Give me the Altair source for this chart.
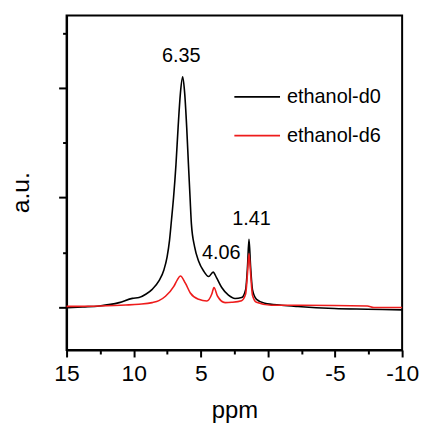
import altair as alt
import pandas as pd

# ---- data ----
d0_ppm = [15, 13.8, 12.56, 11.08, 10.1, 9.6, 9.1, 8.62, 8.12, 7.75, 7.51, 7.33, 7.18, 7.03, 6.85,
          6.69, 6.52, 6.35, 6.2, 6.05, 5.92, 5.80, 5.70, 5.46, 5.16, 4.79, 4.42, 4.08, 3.83, 3.44,
          2.94, 2.45, 1.96, 1.66, 1.52, 1.41, 1.29, 1.15, 0.85, 0.23, -1.0, -2.23, -4.95, -7.4, -10]
d0_val = [-0.005, 0.003, 0.012, 0.042, 0.081, 0.088, 0.118, 0.163, 0.24, 0.34, 0.46, 0.61, 0.80, 1.0, 1.30,
          1.64, 1.95, 2.10, 1.95, 1.64, 1.30, 1.0, 0.76, 0.55, 0.42, 0.33, 0.28, 0.32, 0.27, 0.18,
          0.11, 0.08, 0.088, 0.16, 0.37, 0.62, 0.37, 0.16, 0.072, 0.036, 0.018, 0.006, -0.012, -0.018, -0.024]

d6_ppm = [15, 12.56, 10.6, 9.6, 8.62, 8.12, 7.63, 7.01, 6.75, 6.52, 6.15, 5.78, 5.16, 4.55,
          4.18, 4.02, 3.75, 3.19, 2.7, 1.96, 1.66, 1.52, 1.41, 1.29, 1.15, 0.85, -0.26,
          -2.47, -7.4, -7.9, -10]
d6_val = [0.008, 0.012, 0.02, 0.027, 0.042, 0.06, 0.10, 0.19, 0.25, 0.285, 0.22, 0.13, 0.072, 0.057,
          0.12, 0.18, 0.10, 0.042, 0.045, 0.06, 0.12, 0.31, 0.49, 0.31, 0.11, 0.045, 0.018,
          0.018, 0.012, -0.003, -0.003]

series_names = ["ethanol-d0", "ethanol-d6"]
series_colors = ["#000000", "#ee1c1c"]

x_major = [15, 10, 5, 0, -5, -10]
x_minor = [12.5, 7.5, 2.5, -2.5, -7.5]
y_major = [0, 1, 2]
y_minor = [0.5, 1.5, 2.5]

ann_text = ["6.35", "4.06", "1.41"]
ann_ppm = [6.46, 3.48, 1.22]
ann_val = [2.29, 0.49, 0.80]

X_DOMAIN = [15, -10]
Y_DOMAIN = [-0.39, 2.66]
FONT = "Liberation Sans"

df = pd.concat([
    pd.DataFrame({"ppm": d0_ppm, "val": d0_val, "series": series_names[0], "k": 0}),
    pd.DataFrame({"ppm": d6_ppm, "val": d6_val, "series": series_names[1], "k": 1}),
], ignore_index=True)
ann = pd.DataFrame({"ppm": ann_ppm, "val": ann_val, "label": ann_text})

xs = alt.Scale(domain=X_DOMAIN, nice=False, zero=False)
ys = alt.Scale(domain=Y_DOMAIN, nice=False, zero=False)

minor = alt.Chart(df).mark_point(opacity=0).encode(
    x=alt.X("ppm:Q", scale=xs, axis=alt.Axis(values=x_minor, tickSize=4, tickWidth=2, labels=False,
                                             domain=False, grid=False, title=None, orient="bottom")),
    y=alt.Y("val:Q", scale=ys, axis=alt.Axis(values=y_minor, tickSize=4, tickWidth=2, labels=False,
                                             domain=False, grid=False, title=None, orient="left")),
)

lines = alt.Chart(df).mark_line(interpolate="monotone", strokeWidth=1.6).encode(
    x=alt.X("ppm:Q", scale=xs, axis=alt.Axis(values=x_major, tickSize=7, tickWidth=2, labelFontSize=23,
                                             labelPadding=6, labelFlush=False, grid=False, title="ppm",
                                             labelExpr="'' + datum.value",
                                             titleFontSize=24, titlePadding=13, orient="bottom")),
    y=alt.Y("val:Q", scale=ys, axis=alt.Axis(values=y_major, tickSize=8, tickWidth=2, labels=False,
                                             grid=False, title="a.u.", titleFontSize=25, titlePadding=24,
                                             titleY=178, orient="left")),
    color=alt.Color("series:N", scale=alt.Scale(domain=series_names, range=series_colors),
                    legend=alt.Legend(title=None, orient="none", legendX=168, legendY=58,
                                      symbolType="stroke", symbolSize=2116, symbolStrokeWidth=1.6,
                                      labelFontSize=20, labelFont=FONT, labelOffset=6,
                                      rowPadding=5, padding=0, labelColor="black")),
    order=alt.Order("ppm:Q", sort="descending"),
    detail="k:N",
)

texts = alt.Chart(ann).mark_text(fontSize=20, font=FONT, color="black", baseline="middle", align="center").encode(
    x=alt.X("ppm:Q", scale=xs, axis=None),
    y=alt.Y("val:Q", scale=ys, axis=None),
    text="label:N",
)

chart = alt.layer(minor, lines, texts).resolve_scale(x="independent", y="independent").properties(
    width=338, height=337,
    autosize=alt.AutoSizeParams(type="none"),
    padding={"left": 59, "top": 6, "right": 18, "bottom": 72},
).configure_view(stroke="black", strokeWidth=2).configure_axis(
    domainColor="black", domainWidth=2, tickColor="black", labelColor="black", titleColor="black",
    labelFont=FONT, titleFont=FONT, titleFontWeight="normal",
)

chart.save("out.html", embed_options={"renderer": "svg", "actions": False})
